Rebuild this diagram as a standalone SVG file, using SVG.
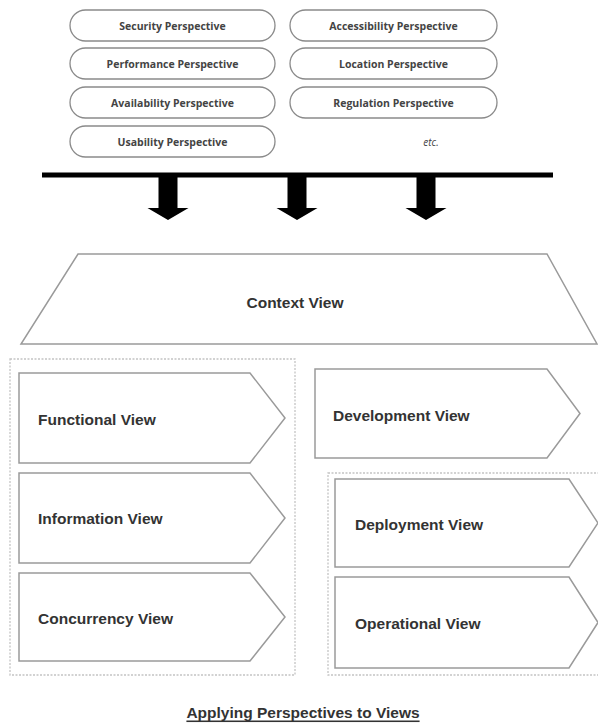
<svg xmlns="http://www.w3.org/2000/svg" width="598" height="723" viewBox="0 0 598 723">
<style>
.pill{fill:#fff;stroke:#8a8a8a;stroke-width:1.3}
.ptxt{font-family:"Open Sans","Liberation Sans",sans-serif;font-weight:bold;font-size:10.5px;fill:#444;text-anchor:middle;dominant-baseline:central}
.etc{font-family:"Open Sans","Liberation Sans",sans-serif;font-style:italic;font-size:10px;fill:#444;text-anchor:middle;dominant-baseline:central}
.view{fill:#fff;stroke:#9a9a9a;stroke-width:1.5}
.vtxt{font-family:"Liberation Sans",Arial,sans-serif;font-weight:bold;font-size:15.5px;fill:#333;dominant-baseline:central}
.cont{fill:none;stroke:#c4c4c4;stroke-width:1.3;stroke-dasharray:2 1.5}
.arrow{fill:#000}
</style>
<defs>
<path id="arr" d="M-9.5,0 H9.5 V32 H20.5 L0,44 L-20.5,32 H-9.5 Z"/>
</defs>

<g id="security"><rect class="pill" x="70" y="10" width="205" height="31" rx="15.5"/><text class="ptxt" x="172.5" y="25.5">Security Perspective</text></g>
<g id="performance"><rect class="pill" x="70" y="48" width="205" height="31" rx="15.5"/><text class="ptxt" x="172.5" y="63.5">Performance Perspective</text></g>
<g id="availability"><rect class="pill" x="70" y="87" width="205" height="31" rx="15.5"/><text class="ptxt" x="172.5" y="102.5">Availability Perspective</text></g>
<g id="usability"><rect class="pill" x="70" y="126" width="205" height="31" rx="15.5"/><text class="ptxt" x="172.5" y="141.5">Usability Perspective</text></g>
<g id="accessibility"><rect class="pill" x="290" y="10" width="207" height="31" rx="15.5"/><text class="ptxt" x="393.5" y="25.5">Accessibility Perspective</text></g>
<g id="location"><rect class="pill" x="290" y="48" width="207" height="31" rx="15.5"/><text class="ptxt" x="393.5" y="63.5">Location Perspective</text></g>
<g id="regulation"><rect class="pill" x="290" y="87" width="207" height="31" rx="15.5"/><text class="ptxt" x="393.5" y="102.5">Regulation Perspective</text></g>
<g id="etc"><text class="etc" x="431" y="141.5">etc.</text></g>

<g id="connectors">
<line x1="42" y1="175" x2="553" y2="175" stroke="#000" stroke-width="5"/>
<use href="#arr" class="arrow" x="168" y="176"/>
<use href="#arr" class="arrow" x="297" y="176"/>
<use href="#arr" class="arrow" x="426" y="176"/>
</g>

<g id="context"><path class="view" d="M78,254 H547 L597,344 H21 Z"/><text class="vtxt" x="295" y="302" text-anchor="middle">Context View</text></g>

<g id="left-group"><rect class="cont" x="10" y="359" width="285" height="316"/></g>
<g id="right-group"><rect class="cont" x="328" y="473" width="290" height="202"/></g>

<g id="functional"><path class="view" d="M19,373 H250 L285,418 L250,463 H19 Z"/><text class="vtxt" x="38" y="419">Functional View</text></g>
<g id="information"><path class="view" d="M19,473 H250 L285,518 L250,563 H19 Z"/><text class="vtxt" x="38" y="518">Information View</text></g>
<g id="concurrency"><path class="view" d="M19,573 H250 L285,617 L250,661 H19 Z"/><text class="vtxt" x="38" y="618">Concurrency View</text></g>
<g id="development"><path class="view" d="M315,369 H547 L580,413.5 L547,458 H315 Z"/><text class="vtxt" x="333" y="415">Development View</text></g>
<g id="deployment"><path class="view" d="M335,479 H569 L598,523 L569,567 H335 Z"/><text class="vtxt" x="355" y="524">Deployment View</text></g>
<g id="operational"><path class="view" d="M335,577 H569 L598,622.5 L569,668 H335 Z"/><text class="vtxt" x="355" y="623">Operational View</text></g>

<g id="title"><text x="303" y="712" font-family="Liberation Sans, Arial, sans-serif" font-weight="bold" font-size="15.5" fill="#333" text-anchor="middle" dominant-baseline="central" text-decoration="underline">Applying Perspectives to Views</text></g>
</svg>
